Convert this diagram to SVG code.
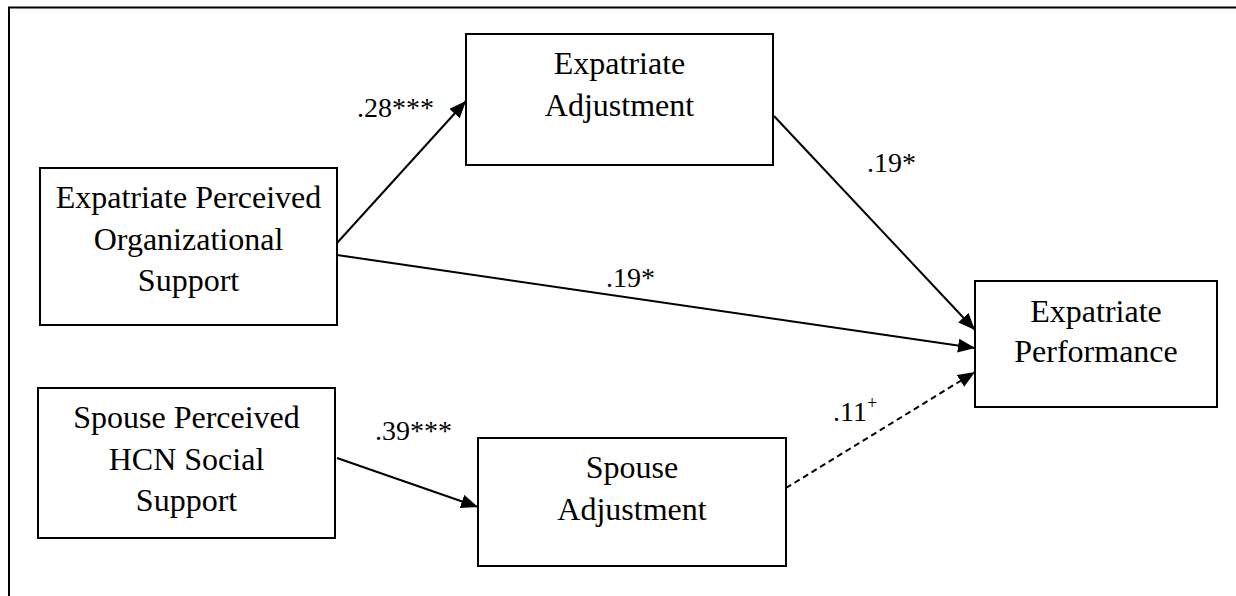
<svg xmlns="http://www.w3.org/2000/svg" width="1236" height="596" viewBox="0 0 1236 596">
<style>
.box{fill:#fff;stroke:#000;stroke-width:2}
.nt{font-family:"Liberation Serif","Times New Roman",serif;font-size:32px;fill:#000;text-anchor:middle}
.lb{font-family:"Liberation Serif","Times New Roman",serif;font-size:28px;fill:#000}
.ln{stroke:#000;stroke-width:2;fill:none}
.dash{stroke-dasharray:6 4}
</style>
<defs>
<marker id="arr" markerUnits="userSpaceOnUse" markerWidth="18" markerHeight="14" refX="17" refY="7" orient="auto">
<path d="M0,0 L17,7 L0,14 z" fill="#000"/>
</marker>
</defs>
<rect width="1236" height="596" fill="#fff"/>
<path d="M9,596 V7.5 H1236" class="ln"/>
<g id="connectors">
<line x1="337" y1="243" x2="466" y2="101" class="ln" marker-end="url(#arr)"/>
<line x1="337" y1="255" x2="975" y2="348" class="ln" marker-end="url(#arr)"/>
<line x1="774" y1="116" x2="975" y2="330" class="ln" marker-end="url(#arr)"/>
<line x1="337" y1="458" x2="478" y2="507" class="ln" marker-end="url(#arr)"/>
<line x1="786" y1="488" x2="975" y2="372" class="ln dash" marker-end="url(#arr)"/>
<text class="lb" x="357" y="117">.28***</text>
<text class="lb" x="867" y="172">.19*</text>
<text class="lb" x="606" y="287">.19*</text>
<text class="lb" x="375" y="440">.39***</text>
<text class="lb" x="833" y="421">.11<tspan font-size="18" dy="-12">+</tspan></text>
</g>
<g id="epos">
<rect class="box" x="40" y="168" width="297" height="157"/>
<text class="nt" x="188.5" y="208">Expatriate Perceived</text>
<text class="nt" x="188.5" y="250">Organizational</text>
<text class="nt" x="188.5" y="291">Support</text>
</g>
<g id="sphcn">
<rect class="box" x="38" y="388" width="297" height="150"/>
<text class="nt" x="186.5" y="428">Spouse Perceived</text>
<text class="nt" x="186.5" y="470">HCN Social</text>
<text class="nt" x="186.5" y="511">Support</text>
</g>
<g id="expadj">
<rect class="box" x="466" y="34" width="307" height="131"/>
<text class="nt" x="619.5" y="74">Expatriate</text>
<text class="nt" x="619.5" y="116">Adjustment</text>
</g>
<g id="spadj">
<rect class="box" x="478" y="438" width="308" height="128"/>
<text class="nt" x="632" y="478">Spouse</text>
<text class="nt" x="632" y="520">Adjustment</text>
</g>
<g id="expperf">
<rect class="box" x="975" y="281" width="242" height="126"/>
<text class="nt" x="1096" y="322">Expatriate</text>
<text class="nt" x="1096" y="362">Performance</text>
</g>
</svg>
